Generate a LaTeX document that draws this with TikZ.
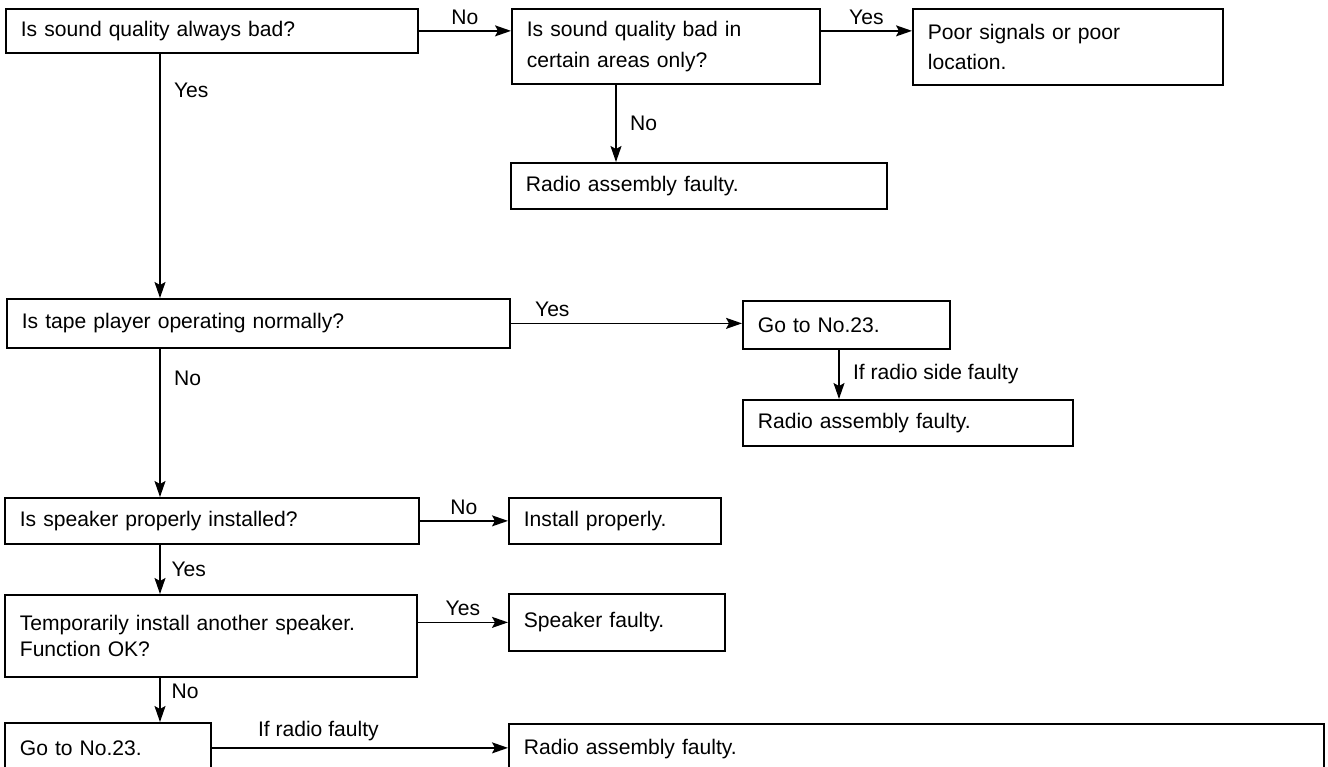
\documentclass[tikz,border=0pt]{standalone}
\usepackage{fontspec}
\setmainfont{Liberation Sans}
\usetikzlibrary{arrows.meta}

\begin{document}
\begin{tikzpicture}[x=0.02cm, y=-0.02cm]
\tikzset{boite/.style={draw, line width=1pt, anchor=north west, align=left, inner xsep=0.3cm, inner ysep=0pt, font=\fontsize{12}{14.4}\selectfont}}
\tikzset{fleche/.style={-{Stealth[length=3.2mm, width=2.2mm, inset=0.6mm]}, line width=0.85pt}}
\tikzset{etiq/.style={font=\fontsize{12}{14.4}\selectfont}}
\useasboundingbox (0, 0) rectangle (1328, 767);
\clip (0, 0) rectangle (1328, 767);
\coordinate (axe) at (160, 0);
\coordinate (col2) at (616, 0);
\coordinate (col3) at (839, 0);
\node[boite, text width=7.64cm, minimum height=0.88cm] (Q1) at (5, 8) {Is sound quality always bad?};
\node[boite, text width=5.56cm, minimum height=1.5cm] (Q2) at (511, 8) {Is sound quality bad in\\[3pt]certain areas only?};
\node[boite, text width=5.6cm, minimum height=1.52cm] (R1) at (912, 8) {Poor signals or poor\\[3pt]location.};
\node[boite, text width=6.92cm, minimum height=0.92cm] (R2) at (510, 162) {Radio assembly faulty.};
\node[boite, text width=9.46cm, minimum height=0.98cm] (Q3) at (6, 298) {Is tape player operating normally?};
\node[boite, text width=3.54cm, minimum height=0.96cm] (R3) at (742, 300) {Go to No.23.};
\node[boite, text width=6cm, minimum height=0.92cm] (R4) at (742, 399) {Radio assembly faulty.};
\node[boite, text width=7.68cm, minimum height=0.92cm] (Q4) at (4, 497) {Is speaker properly installed?};
\node[boite, text width=3.64cm, minimum height=0.92cm] (R5) at (508, 497) {Install properly.};
\node[boite, text width=7.64cm, minimum height=1.64cm] (Q5) at (4, 594) {Temporarily install another speaker.\\Function OK?};
\node[boite, text width=3.72cm, minimum height=1.14cm] (R6) at (508, 593) {Speaker faulty.};
\node[boite, text width=3.52cm, minimum height=1cm] (R7) at (4, 722) {Go to No.23.};
\node[boite, text width=15.7cm, minimum height=1cm] (R8) at (508, 723) {Radio assembly faulty.};
\draw[fleche] (Q1.east) -- (Q1.east -| Q2.west) node[etiq, midway, above] {No};
\draw[fleche] (Q1.east -| Q2.east) -- (Q1.east -| R1.west) node[etiq, midway, above] {Yes};
\draw[fleche] (Q2.south -| col2) -- (R2.north -| col2) node[etiq, midway, right=1.5mm] {No};
\draw[fleche] (Q1.south -| axe) -- (Q3.north -| axe) node[etiq, pos=0.15, right=1.5mm] {Yes};
\draw[fleche] (Q3.east) -- (Q3.east -| R3.west) node[etiq, pos=0.18, above] {Yes};
\draw[fleche] (R3.south -| col3) -- (R4.north -| col3) node[etiq, midway, right=1.5mm] {If radio side faulty};
\draw[fleche] (Q3.south -| axe) -- (Q4.north -| axe) node[etiq, pos=0.2, right=1.5mm] {No};
\draw[fleche] (Q4.east) -- (Q4.east -| R5.west) node[etiq, midway, above] {No};
\draw[fleche] (Q4.south -| axe) -- (Q5.north -| axe) node[etiq, midway, right=1mm] {Yes};
\draw[fleche] (R6.west -| Q5.east) -- (R6.west) node[etiq, midway, above] {Yes};
\draw[fleche] (Q5.south -| axe) -- (R7.north -| axe) node[etiq, pos=0.3, right=1mm] {No};
\draw[fleche] (R7.east) -- (R7.east -| R8.west) node[etiq, pos=0.36, above] {If radio faulty};
\end{tikzpicture}
\end{document}
